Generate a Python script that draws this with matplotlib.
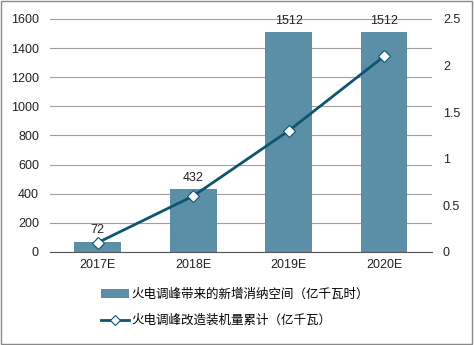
import matplotlib.pyplot as plt
from matplotlib.patches import Rectangle
import numpy as np

plt.rcParams['font.family'] = ['Liberation Sans', 'Noto Sans CJK SC', 'DejaVu Sans']

years = ['2017E', '2018E', '2019E', '2020E']
space = [72, 432, 1512, 1512]          # 亿千瓦时
capacity = [0.1, 0.6, 1.3, 2.1]        # 亿千瓦

bar_color = '#5b8fa8'
line_color = '#0d5570'

fig = plt.figure(figsize=(4.74, 3.45), dpi=100)
ax = fig.add_axes([0.1055, 0.2696, 0.8055, 0.6754])
x = np.arange(len(years))

ax.bar(x, space, width=0.49, color=bar_color, zorder=2, label='火电调峰带来的新增消纳空间（亿千瓦时）')
for xi, v in zip(x, space):
    ax.text(xi, v + 35, str(v), ha='center', va='bottom', fontsize=9, color='#222222')
ax.set_ylim(0, 1600)
ax.set_xlim(-0.5, 3.5)
ax.set_yticks(range(0, 1601, 200))
ax.yaxis.grid(True, color='#a0a0a0', linewidth=0.8, zorder=0)
ax.set_xticks(x)
ax.set_xticklabels(years)
for s in ['top', 'right', 'left']:
    ax.spines[s].set_visible(False)
ax.spines['bottom'].set_color('#555555')
ax.tick_params(axis='y', length=0, labelsize=9, pad=8, labelcolor='#222222')
ax.tick_params(axis='x', length=0, labelsize=9, pad=5, labelcolor='#222222')

ax2 = ax.twinx()
ax2.plot(x, capacity, color=line_color, linewidth=2, marker='D', markersize=6,
         markerfacecolor='white', markeredgecolor=line_color, markeredgewidth=0.8, zorder=3,
         label='火电调峰改造装机量累计（亿千瓦）')
ax2.set_ylim(0, 2.5)
ax2.set_yticks([0, 0.5, 1, 1.5, 2, 2.5])
ax2.set_yticklabels(['0', '0.5', '1', '1.5', '2', '2.5'])
ax2.tick_params(axis='y', length=0, labelsize=9, pad=8, labelcolor='#222222')
for s in ax2.spines.values():
    s.set_visible(False)

h1, l1 = ax.get_legend_handles_labels()
h2, l2 = ax2.get_legend_handles_labels()
fig.legend(h1 + h2, l1 + l2, loc='upper left', bbox_to_anchor=(0.203, 0.178), frameon=False,
           fontsize=9, handlelength=2.2, labelspacing=1.1, handletextpad=0.2, borderaxespad=0,
           markerscale=0.8)

fig.patches.append(Rectangle((0.003, 0.004), 0.993, 0.992, transform=fig.transFigure,
                             fill=False, edgecolor='#888888', linewidth=1))

fig.savefig('out.png', dpi=100)
